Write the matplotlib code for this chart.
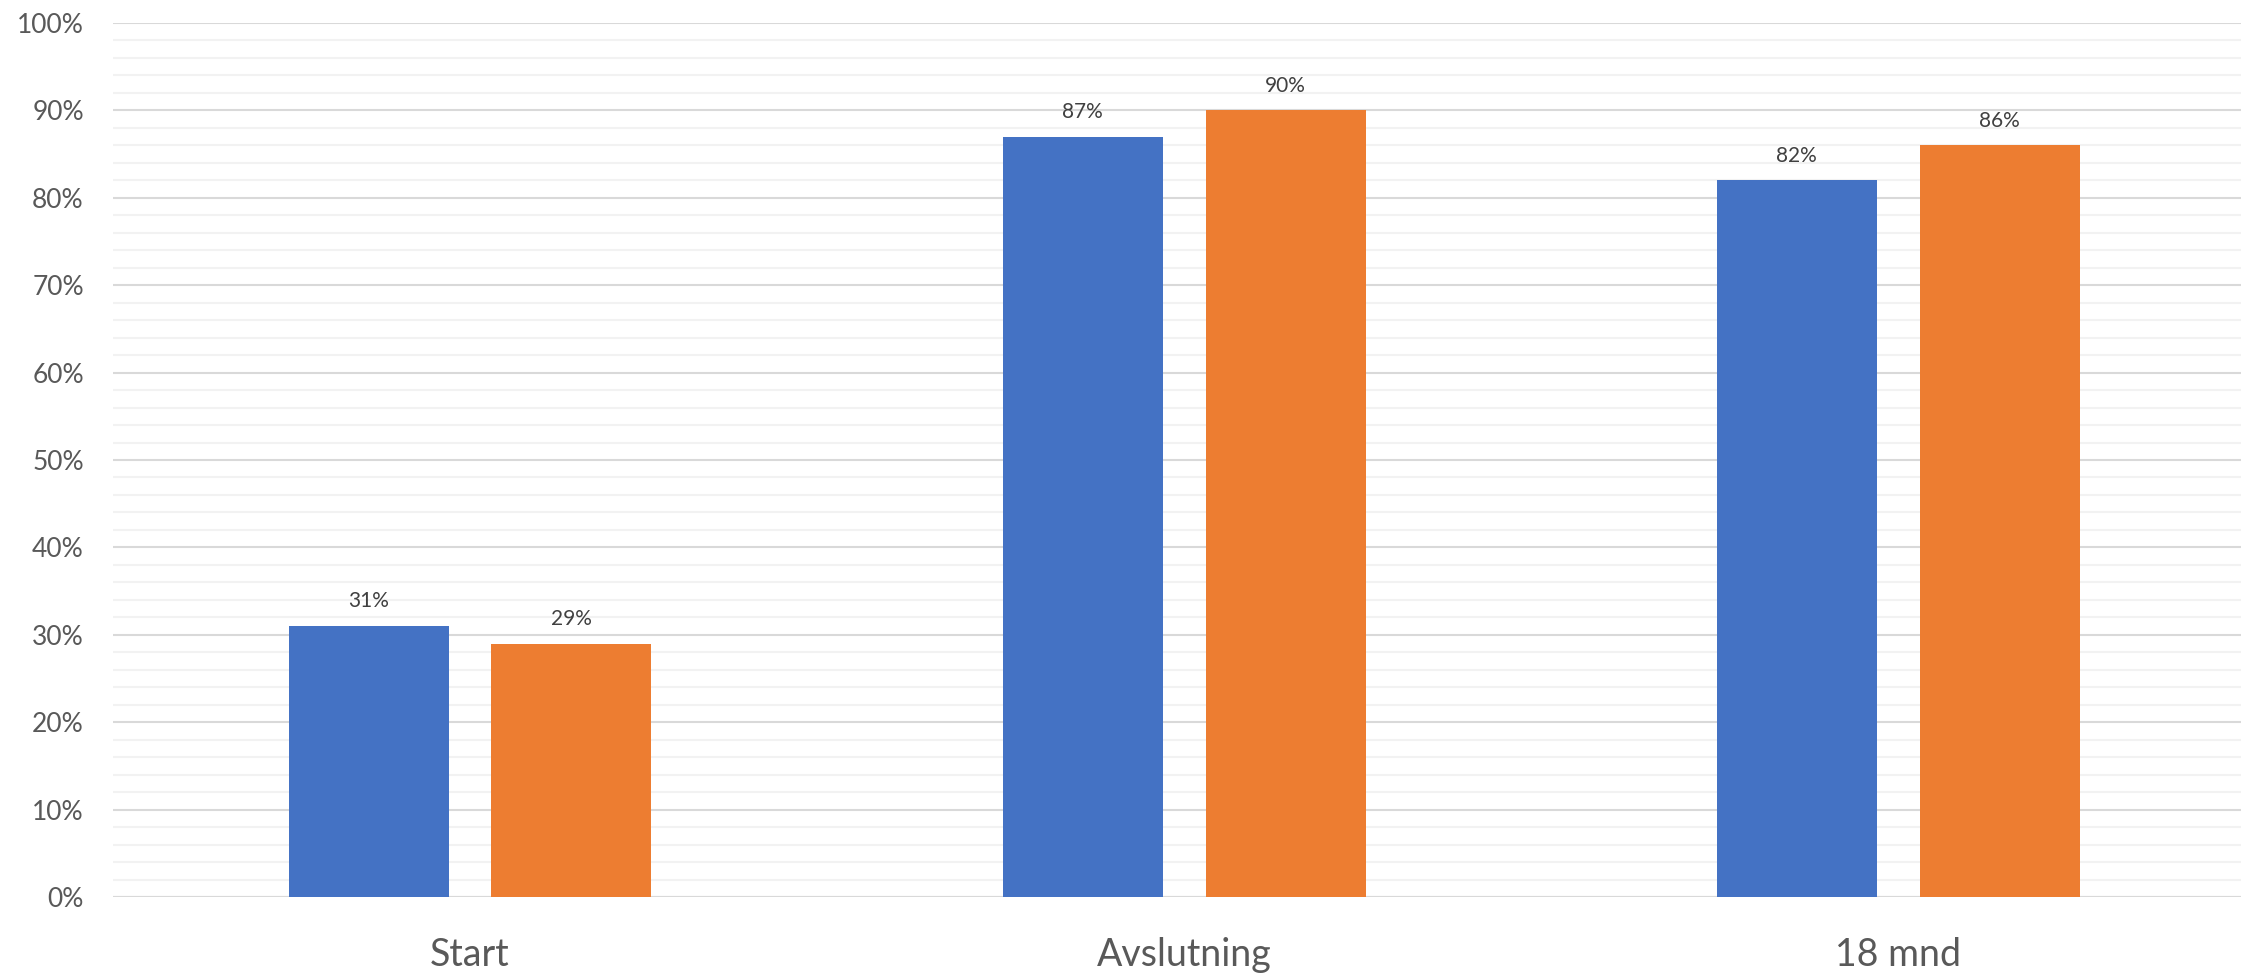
import matplotlib
matplotlib.use("Agg")
import matplotlib.pyplot as plt
from matplotlib.ticker import MultipleLocator, FuncFormatter

categories = ["Start", "Avslutning", "18 mnd"]
series_a = [31, 87, 82]
series_b = [29, 90, 86]
colors = ["#4472C4", "#ED7D31"]

plt.rcParams['font.family'] = ['Lato', 'DejaVu Sans']

W, H = 2241, 973
fig = plt.figure(figsize=(W / 100, H / 100), dpi=100)
left_px, right_px = 113, 2241
bottom_px, top_px = 897, 23
ax = fig.add_axes([left_px / W, 1 - bottom_px / H, (right_px - left_px) / W, (bottom_px - top_px) / H])

x = list(range(len(categories)))
bw = 0.224
off = 0.142
ax.bar([i - off for i in x], series_a, width=bw, color=colors[0], zorder=3)
ax.bar([i + off for i in x], series_b, width=bw, color=colors[1], zorder=3)

for i in x:
    for xo, v in ((i - off, series_a[i]), (i + off, series_b[i])):
        ax.annotate(f"{v}%", (xo, v), xytext=(0, 13.5), textcoords="offset points",
                    ha="center", va="baseline", fontsize=15, color="#404040")

ax.set_xlim(-0.5, 2.48)
ax.set_ylim(0, 100)
ax.yaxis.set_major_locator(MultipleLocator(10))
ax.yaxis.set_minor_locator(MultipleLocator(2))
ax.yaxis.set_major_formatter(FuncFormatter(lambda v, p: f"{int(round(v))}%"))
ax.grid(axis="y", which="major", color="#d9d9d9", linewidth=1.5, zorder=0)
ax.grid(axis="y", which="minor", color="#f2f2f2", linewidth=1.5, zorder=0)
ax.set_axisbelow(True)

ax.set_xticks(x)
ax.set_xticklabels(categories)
ax.tick_params(axis="x", length=0, pad=29, labelsize=27, labelcolor="#595959")
ax.tick_params(axis="y", which="both", length=0, pad=21, labelsize=19, labelcolor="#595959")
for s in ax.spines.values():
    s.set_visible(False)
ax.axhline(0, color="#d9d9d9", linewidth=1.5, zorder=2)

fig.savefig("out.png", dpi=100)
